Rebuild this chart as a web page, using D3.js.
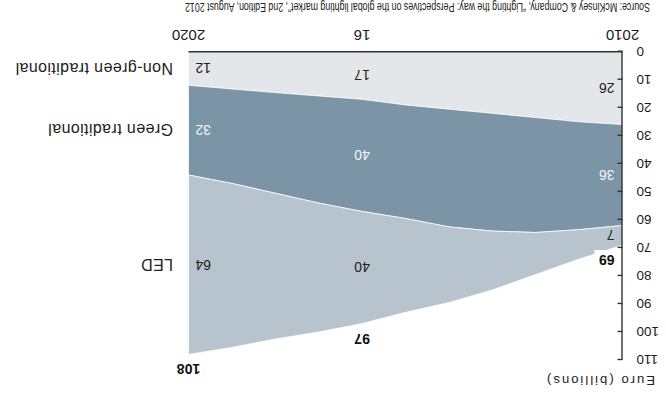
<!DOCTYPE html>
<html>
<head>
<meta charset="utf-8">
<script src="https://cdn.jsdelivr.net/npm/d3@7"></script>
<style>
  body { margin: 0; background: #fff; }
  svg { display: block; font-family: "Liberation Sans", Arial, Helvetica, sans-serif; }
</style>
</head>
<body>
<svg id="chart" width="666" height="403"></svg>
<script>
// Global lighting market by segment, Euro billions
const years     = [2010, 2011, 2012, 2013, 2014, 2015, 2016, 2017, 2018, 2019, 2020];
const nonGreen  = [26, 25, 23.5, 22, 20.5, 19, 17, 15.8, 14.6, 13.3, 12];
const green     = [36, 38.5, 41, 42, 42, 40.5, 40, 38.2, 35.9, 33.7, 32];
const led       = [7, 10.5, 15, 21, 27, 33.5, 40, 46, 52, 58.5, 64];

const seriesKeys   = ["nonGreen", "green", "led"];
const seriesNames  = ["Non-green traditional", "Green traditional", "LED"];
const seriesColors = ["#e3e7ea", "#7b95a6", "#b7c4ce"];
const seriesText   = ["#222", "#f4f6f8", "#222"];

const labelYears = [2010, 2016, 2020];
const yearTexts  = ["2010", "16", "2020"];
const yTicks     = [0, 10, 20, 30, 40, 50, 60, 70, 80, 90, 100, 110];

const axisTitle  = "Euro (billions)";
const sourceText = "Source: McKinsey & Company, \u201CLighting the way: Perspectives on the global lighting market\u201D, 2nd Edition, August 2012";

const W = 666, H = 403;
const svg = d3.select("#chart");
// the whole drawing is turned upside down
const root = svg.append("g").attr("transform", `rotate(180 ${W / 2} ${H / 2})`);

const x = d3.scaleLinear().domain([2010, 2020]).range([43.5, 477.5]);
const y = d3.scaleLinear().domain([0, 110]).range([351.3, 43]);

const rows = years.map((yr, i) => ({ year: yr, nonGreen: nonGreen[i], green: green[i], led: led[i] }));
const stacked = d3.stack().keys(seriesKeys)(rows);
const totals = rows.map(r => r.nonGreen + r.green + r.led);

const area = d3.area()
  .x(d => x(d.data.year))
  .y0(d => y(d[0]))
  .y1(d => y(d[1]))
  .curve(d3.curveLinear);

root.append("g").selectAll("path")
  .data(stacked)
  .join("path")
  .attr("d", area)
  .attr("fill", (d, i) => seriesColors[i])
  .attr("stroke", "#fff")
  .attr("stroke-opacity", 0.75)
  .attr("stroke-width", 1);

// baseline
root.append("line")
  .attr("x1", x(2010)).attr("x2", x(2020))
  .attr("y1", y(0)).attr("y2", y(0))
  .attr("stroke", "#333").attr("stroke-width", 1.6);

// value axis
const yAxis = root.append("g")
  .attr("transform", `translate(${x(2010)},0)`)
  .call(d3.axisLeft(y).tickValues(yTicks).tickSizeInner(-5).tickSizeOuter(0).tickPadding(14));
yAxis.select(".domain").attr("stroke", "#333").attr("stroke-width", 1.4);
yAxis.selectAll(".tick line").attr("stroke", "#333").attr("stroke-width", 1.4);
yAxis.selectAll(".tick text")
  .attr("fill", "#1a1a1a")
  .style("font-size", "13.5px")
  .style("font-family", "Liberation Sans, Arial, sans-serif");

root.append("text")
  .attr("x", 11).attr("y", 27)
  .attr("fill", "#222")
  .style("font-size", "13px")
  .attr("textLength", 108)
  .attr("lengthAdjust", "spacing")
  .text(axisTitle);

// year labels
root.append("g").selectAll("text")
  .data(labelYears)
  .join("text")
  .attr("x", d => x(d))
  .attr("y", 373)
  .attr("text-anchor", "middle")
  .attr("fill", "#1a1a1a")
  .style("font-size", "15px")
  .text((d, i) => yearTexts[i]);

// segment values inside the bands
const labelIdx = labelYears.map(yr => years.indexOf(yr));
const anchorFor = j => (j === 0 ? "start" : j === labelIdx.length - 1 ? "end" : "middle");
const dxFor = j => (j === 0 ? 8 : j === labelIdx.length - 1 ? -7 : 0);

stacked.forEach((layer, s) => {
  root.append("g").selectAll("text")
    .data(labelIdx)
    .join("text")
    .attr("x", (idx, j) => x(years[idx]) + dxFor(j))
    .attr("y", idx => y((layer[idx][0] + layer[idx][1]) / 2))
    .attr("dy", "0.36em")
    .attr("text-anchor", (idx, j) => anchorFor(j))
    .attr("fill", seriesText[s])
    .style("font-size", "14px")
    .text(idx => d3.format("d")(layer[idx][1] - layer[idx][0]));
});

// totals above the stack
const totalG = root.append("g");
labelIdx.forEach((idx, j) => {
  const tx = j === 0 ? x(years[idx]) + 8 : x(years[idx]);
  const anchor = j === 0 ? "start" : "middle";
  const ty = y(totals[idx]) - 15;
  if (j === 0) {
    totalG.append("rect")
      .attr("x", tx - 2).attr("y", ty - 10)
      .attr("width", 22).attr("height", 20)
      .attr("fill", "#fff");
  }
  totalG.append("text")
    .attr("x", tx).attr("y", ty)
    .attr("dy", "0.36em")
    .attr("text-anchor", anchor)
    .attr("fill", "#111")
    .style("font-size", "14px")
    .style("font-weight", "bold")
    .text(d3.format("d")(totals[idx]));
});

// series names beside the last year
const last = years.length - 1;
root.append("g").selectAll("text")
  .data(stacked)
  .join("text")
  .attr("x", 493)
  .attr("y", d => y((d[last][0] + d[last][1]) / 2))
  .attr("dy", "0.36em")
  .attr("fill", "#222")
  .style("font-size", "16px")
  .style("letter-spacing", "0.4px")
  .text((d, i) => seriesNames[i]);

// source line
root.append("text")
  .attr("x", 16).attr("y", 400)
  .attr("fill", "#222")
  .style("font-size", "12px")
  .attr("textLength", 465)
  .attr("lengthAdjust", "spacingAndGlyphs")
  .text(sourceText);
</script>
</body>
</html>
